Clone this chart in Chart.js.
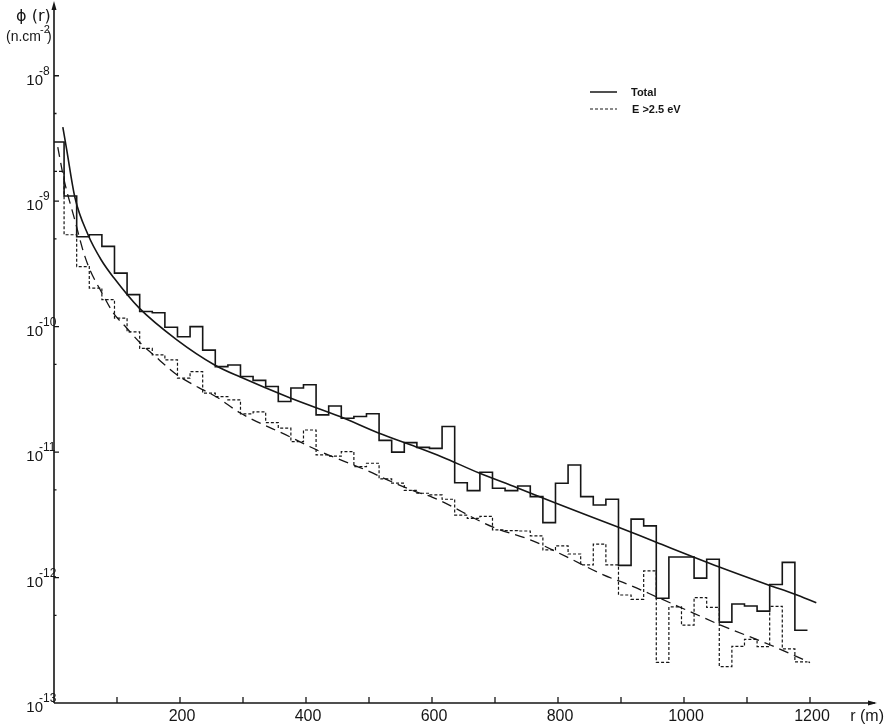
<!DOCTYPE html>
<html>
<head>
<meta charset="utf-8">
<script src="https://cdn.jsdelivr.net/npm/chart.js@4.4.0/dist/chart.umd.min.js"></script>
<style>
  html, body { margin: 0; padding: 0; background: #fff; }
  canvas { display: block; }
</style>
</head>
<body>
<canvas id="fluxChart" width="887" height="724"></canvas>
<script>
// ----------------------------
// DATA
// ----------------------------
const binWidth = 20;   // m
const binShift = -4;   // histogram edges sit slightly left of round metres

// phi(r) per 20 m bin, all neutrons
const totalHist = [
  2.96e-9, 1.10e-9, 5.2e-10, 5.4e-10, 4.36e-10, 2.67e-10, 1.80e-10, 1.32e-10, 1.29e-10, 9.9e-11,
  8.3e-11, 1.0e-10, 6.5e-11, 4.8e-11, 4.95e-11, 4.0e-11, 3.73e-11, 3.33e-11, 2.53e-11, 3.24e-11,
  3.44e-11, 1.98e-11, 2.33e-11, 1.86e-11, 1.92e-11, 2.02e-11, 1.24e-11, 1.0e-11, 1.19e-11, 1.09e-11,
  1.07e-11, 1.60e-11, 5.7e-12, 4.93e-12, 6.9e-12, 5.15e-12, 4.93e-12, 5.37e-12, 4.42e-12, 2.74e-12,
  5.65e-12, 7.9e-12, 4.42e-12, 3.79e-12, 4.21e-12, 1.25e-12, 2.92e-12, 2.58e-12, 6.84e-13, 1.46e-12,
  1.46e-12, 9.9e-13, 1.40e-12, 4.41e-13, 6.15e-13, 5.94e-13, 5.40e-13, 8.8e-13, 1.32e-12, 3.80e-13
];

// phi(r) per 20 m bin, E > 2.5 eV
const fastHist = [
  1.73e-9, 5.4e-10, 3.01e-10, 2.03e-10, 1.64e-10, 1.17e-10, 9.1e-11, 6.7e-11, 5.96e-11, 5.43e-11,
  3.88e-11, 4.38e-11, 2.95e-11, 2.77e-11, 2.61e-11, 2.02e-11, 2.09e-11, 1.72e-11, 1.55e-11, 1.21e-11,
  1.50e-11, 9.5e-12, 9.3e-12, 1.01e-11, 7.66e-12, 8.15e-12, 6.11e-12, 5.65e-12, 4.95e-12, 4.70e-12,
  4.56e-12, 4.21e-12, 3.15e-12, 2.96e-12, 3.07e-12, 2.40e-12, 2.37e-12, 2.35e-12, 2.15e-12, 1.66e-12,
  1.79e-12, 1.54e-12, 1.26e-12, 1.85e-12, 1.26e-12, 7.26e-13, 6.71e-13, 1.13e-12, 2.11e-13, 5.83e-13,
  4.17e-13, 6.93e-13, 5.78e-13, 1.95e-13, 2.83e-13, 3.22e-13, 2.81e-13, 5.90e-13, 2.70e-13, 2.13e-13
];

// smooth fitted curves
const totalCurveR = [14, 20, 33, 54, 75, 95, 135, 195, 255, 295, 375, 455, 515, 575, 615, 675, 735, 795, 895, 955, 1055, 1135, 1175, 1210];
const totalCurveVal = [3.9e-9, 2.6e-9, 1.08e-9, 5.4e-10, 3.4e-10, 2.45e-10, 1.41e-10, 7.85e-11, 4.95e-11, 3.98e-11, 2.70e-11, 1.91e-11, 1.42e-11, 1.10e-11, 9.2e-12, 6.8e-12, 5.2e-12, 3.94e-12, 2.53e-12, 1.92e-12, 1.22e-12, 8.7e-13, 7.4e-13, 6.3e-13];

const fastCurveR = [6, 16, 33, 47, 57, 76, 94, 115, 137, 158, 195, 216, 237, 258, 295, 375, 417, 454, 495, 536, 576, 600, 697, 756, 814, 872, 914, 957, 1015, 1057, 1137, 1200];
const fastCurveVal = [2.7e-9, 1.48e-9, 7.1e-10, 3.9e-10, 2.84e-10, 1.86e-10, 1.29e-10, 9.8e-11, 7.4e-11, 5.96e-11, 4.13e-11, 3.56e-11, 3.13e-11, 2.75e-11, 2.06e-11, 1.32e-11, 1.04e-11, 8.7e-12, 7.2e-12, 5.8e-12, 4.8e-12, 4.38e-12, 2.52e-12, 2.0e-12, 1.46e-12, 1.05e-12, 8.7e-13, 7.0e-13, 5.2e-13, 4.2e-13, 2.9e-13, 2.1e-13];

// axes
const xTicks = [100, 200, 300, 400, 500, 600, 700, 800, 900, 1000, 1100, 1200];
const xLabels = [200, 400, 600, 800, 1000, 1200];
const yDecades = [-8, -9, -10, -11, -12, -13];
const yMinorMantissa = 5;

const INK = "#161616";

// ----------------------------
// BUILD POINT LISTS
// ----------------------------
function histPoints(values) {
  const pts = values.map((v, i) => ({ x: Math.max(0, i * binWidth + binShift), y: v }));
  // close the last bin
  pts.push({ x: values.length * binWidth + binShift, y: values[values.length - 1] });
  return pts;
}

function curvePoints(rs, vals) {
  return rs.map((r, i) => ({ x: r, y: vals[i] }));
}

// ----------------------------
// HAND-DRAWN STYLE AXES
// ----------------------------
const axesPlugin = {
  id: "paperAxes",
  afterDatasetsDraw(chart) {
    const { ctx, scales: { x, y } } = chart;
    const x0 = x.getPixelForValue(0);
    const yb = y.getPixelForValue(1e-13);
    const xEnd = x.right + 2;
    const yTop = y.top;

    ctx.save();
    ctx.strokeStyle = INK;
    ctx.fillStyle = INK;
    ctx.lineWidth = 1.6;

    // axis lines
    ctx.beginPath();
    ctx.moveTo(x0, yb);
    ctx.lineTo(xEnd, yb);
    ctx.moveTo(x0, yb);
    ctx.lineTo(x0, yTop + 3);
    ctx.stroke();

    // arrow heads
    ctx.beginPath();
    ctx.moveTo(xEnd + 2, yb);
    ctx.lineTo(xEnd - 7, yb - 2.5);
    ctx.lineTo(xEnd - 7, yb + 2.5);
    ctx.closePath();
    ctx.fill();
    ctx.beginPath();
    ctx.moveTo(x0, yTop - 2);
    ctx.lineTo(x0 - 2.5, yTop + 7);
    ctx.lineTo(x0 + 2.5, yTop + 7);
    ctx.closePath();
    ctx.fill();

    // x ticks
    ctx.lineWidth = 1.3;
    ctx.beginPath();
    xTicks.forEach(t => {
      const px = x.getPixelForValue(t);
      ctx.moveTo(px, yb);
      ctx.lineTo(px, yb - 6);
    });
    // y ticks: decades and the 5x marks
    yDecades.forEach(d => {
      const py = y.getPixelForValue(Math.pow(10, d));
      if (d > -13) {
        ctx.moveTo(x0, py);
        ctx.lineTo(x0 + 5, py);
      }
      const pm = y.getPixelForValue(yMinorMantissa * Math.pow(10, d));
      if (pm >= y.top) {
        ctx.moveTo(x0, pm);
        ctx.lineTo(x0 + 2.5, pm);
      }
    });
    ctx.stroke();

    // x labels
    ctx.font = "16px 'Liberation Sans', Arial, sans-serif";
    ctx.textAlign = "center";
    ctx.textBaseline = "alphabetic";
    xLabels.forEach(t => {
      ctx.fillText(String(t), x.getPixelForValue(t) + 2, yb + 18);
    });
    ctx.textAlign = "right";
    ctx.fillText("r (m)", 884, yb + 18);

    // y labels: 10 with superscript exponent
    yDecades.forEach(d => {
      const py = y.getPixelForValue(Math.pow(10, d));
      ctx.font = "15px 'Liberation Sans', Arial, sans-serif";
      ctx.textAlign = "right";
      ctx.fillText("10", 43, py + 9);
      ctx.font = "12px 'Liberation Sans', Arial, sans-serif";
      ctx.textAlign = "left";
      ctx.fillText(String(d), 39, py - 1);
    });

    // y axis title
    ctx.textAlign = "left";
    ctx.font = "16px 'DejaVu Sans', 'Liberation Sans', sans-serif";
    ctx.fillText("ϕ (r)", 16, 21);
    ctx.font = "14px 'Liberation Sans', Arial, sans-serif";
    ctx.fillText("(n.cm", 6, 41);
    const w = ctx.measureText("(n.cm").width;
    ctx.font = "11px 'Liberation Sans', Arial, sans-serif";
    ctx.fillText("-2", 6 + w - 1, 33);
    ctx.font = "14px 'Liberation Sans', Arial, sans-serif";
    ctx.fillText(")", 6 + w + 6, 41);

    // legend
    ctx.lineWidth = 1.5;
    ctx.beginPath();
    ctx.moveTo(590, 92);
    ctx.lineTo(617, 92);
    ctx.stroke();
    ctx.setLineDash([3, 2]);
    ctx.lineWidth = 1.2;
    ctx.beginPath();
    ctx.moveTo(590, 109);
    ctx.lineTo(617, 109);
    ctx.stroke();
    ctx.setLineDash([]);
    ctx.font = "bold 11px 'Liberation Sans', Arial, sans-serif";
    ctx.fillText("Total", 631, 96);
    ctx.fillText("E >2.5 eV", 632, 113);

    ctx.restore();
  }
};

// ----------------------------
// CHART
// ----------------------------
function renderChart() {
  const ctx = document.getElementById("fluxChart").getContext("2d");

  new Chart(ctx, {
    type: "line",
    data: {
      datasets: [
        {
          label: "Total (histogram)",
          data: histPoints(totalHist),
          borderColor: INK,
          borderWidth: 1.6,
          stepped: "before",
          pointRadius: 0
        },
        {
          label: "E >2.5 eV (histogram)",
          data: histPoints(fastHist),
          borderColor: INK,
          borderWidth: 1.2,
          borderDash: [3, 2],
          stepped: "before",
          pointRadius: 0
        },
        {
          label: "Total",
          data: curvePoints(totalCurveR, totalCurveVal),
          borderColor: INK,
          borderWidth: 1.6,
          cubicInterpolationMode: "monotone",
          pointRadius: 0
        },
        {
          label: "E >2.5 eV",
          data: curvePoints(fastCurveR, fastCurveVal),
          borderColor: INK,
          borderWidth: 1.3,
          borderDash: [10, 6],
          cubicInterpolationMode: "monotone",
          pointRadius: 0
        }
      ]
    },
    options: {
      responsive: false,
      animation: false,
      layout: { padding: { left: 54, right: 14, top: 3, bottom: 21 } },
      plugins: {
        legend: { display: false },
        tooltip: { enabled: false }
      },
      scales: {
        x: { type: "linear", min: 0, max: 1300, display: false },
        y: { type: "logarithmic", min: 1e-13, max: 3.8e-8, display: false }
      }
    },
    plugins: [axesPlugin]
  });
}

renderChart();
</script>
</body>
</html>
